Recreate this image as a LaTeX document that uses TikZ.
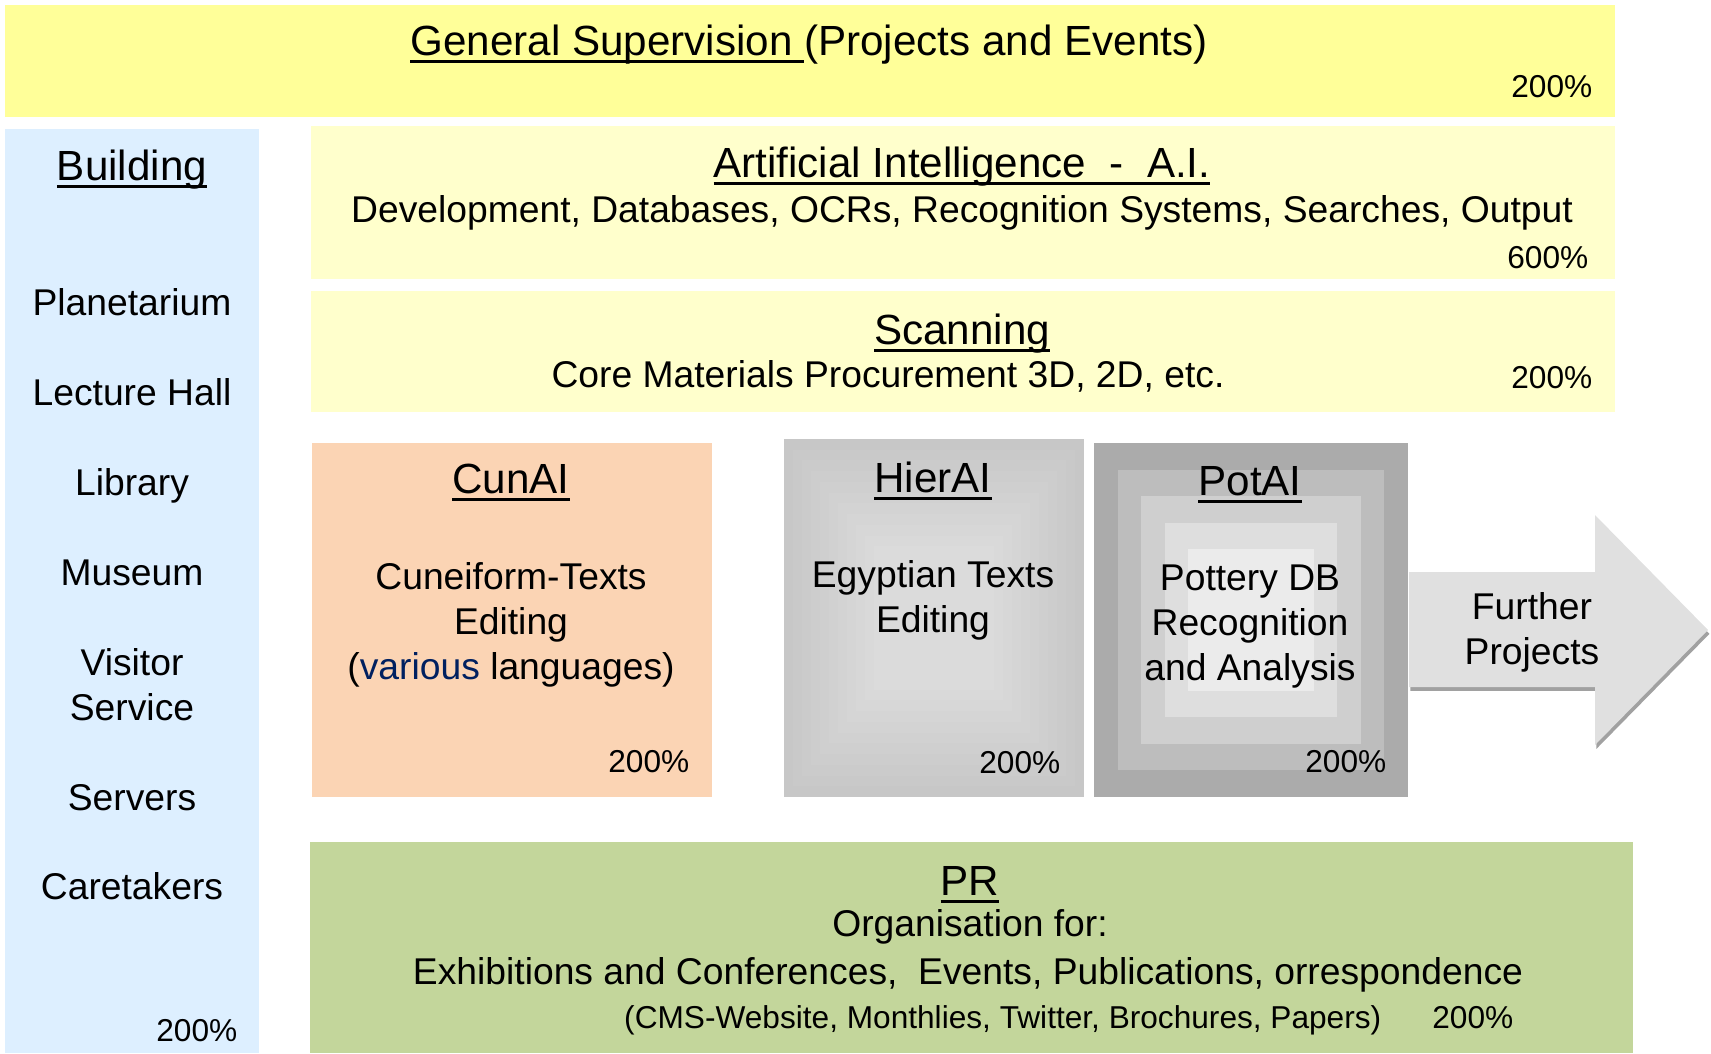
\documentclass[tikz,border=0pt]{standalone}
\usepackage{fontspec}
\setmainfont{Liberation Sans}
\usepackage{tikz}
\usetikzlibrary{calc}
\definecolor{supyellow}{RGB}{255,255,153}
\definecolor{aiyellow}{RGB}{255,255,204}
\definecolor{buildblue}{RGB}{221,239,255}
\definecolor{cunpeach}{RGB}{251,212,180}
\definecolor{prgreen}{RGB}{195,214,155}
\definecolor{arrowgray}{RGB}{224,224,224}
\definecolor{varblue}{RGB}{0,32,96}
\newcommand{\undl}[1]{\setbox0\hbox{#1}\rlap{\rule[-0.19em]{\wd0}{0.06em}}\box0}

\begin{document}
\begin{tikzpicture}[
  area/.style={anchor=north west,inner sep=0pt,outer sep=0pt},
  head/.style={anchor=base,inner sep=0pt,font=\fontsize{12}{14.4}\selectfont},
  txt/.style={anchor=base,inner sep=0pt,align=center,font=\fontsize{10.6}{12.7}\selectfont},
  pct/.style={anchor=base east,inner sep=0pt,font=\fontsize{9}{11}\selectfont}
]
\useasboundingbox (0,0) rectangle (17.11,-10.53);

% boxes
\node[area,fill=supyellow,minimum width=16.10cm,minimum height=1.12cm] (gen) at (0.05,-0.05) {};
\node[area,fill=buildblue,minimum width=2.54cm,minimum height=9.24cm] (bld) at (0.05,-1.29) {};
\node[area,fill=aiyellow,minimum width=13.04cm,minimum height=1.53cm] (ai) at (3.11,-1.26) {};
\node[area,fill=aiyellow,minimum width=13.04cm,minimum height=1.21cm] (scan) at (3.11,-2.91) {};
\node[area,fill=cunpeach,minimum width=4.00cm,minimum height=3.54cm] (cun) at (3.12,-4.43) {};
\node[area,fill=black!22,minimum width=3.00cm,minimum height=3.58cm] (hier) at (7.84,-4.39) {};
\node[area,fill=black!33,minimum width=3.14cm,minimum height=3.54cm] (pot) at (10.94,-4.43) {};
\node[area,fill=prgreen,minimum width=13.23cm,minimum height=2.11cm] (pr) at (3.10,-8.42) {};

% soft shading of the grey boxes
\foreach \i [evaluate=\i as \f using \i*0.06, evaluate=\i as \g using 22-0.8*\i] in {1,...,10}
  \fill[black!\g] ($(hier.north west)!\f!(hier.center)$) rectangle ($(hier.south east)!\f!(hier.center)$);
\foreach \f/\c in {0.15/black!26,0.3/black!19,0.45/black!13,0.6/black!8}
  \fill[\c] ($(pot.north west)!\f!(pot.center)$) rectangle ($(pot.south east)!\f!(pot.center)$);

% arrow
\fill[black!37,xshift=0.4pt,yshift=-1.1pt] (14.09,-5.72) -- (15.95,-5.72) -- (15.95,-5.15) -- (17.08,-6.30)
  -- (15.95,-7.45) -- (15.95,-6.87) -- (14.09,-6.87) -- cycle;
\fill[arrowgray] (14.09,-5.72) -- (15.95,-5.72) -- (15.95,-5.15) -- (17.08,-6.30)
  -- (15.95,-7.45) -- (15.95,-6.87) -- (14.09,-6.87) -- cycle;

% texts
\node[head] (gentitle) at (8.09,-0.55) {\undl{General Supervision\ }(Projects and Events)};
\node[pct] (genpct) at (15.93,-0.97) {200\%};

\node[head] (bldtitle) at (1.32,-1.80) {\undl{Building}};
\node[txt] (planet) at (1.32,-3.15) {Planetarium};
\node[txt] (lecture) at (1.32,-4.05) {Lecture Hall};
\node[txt] (library) at (1.32,-4.95) {Library};
\node[txt] (museum) at (1.32,-5.85) {Museum};
\node[txt] (visitor) at (1.32,-7.20) {Visitor\\Service};
\node[txt] (servers) at (1.32,-8.10) {Servers};
\node[txt] (caretakers) at (1.32,-8.99) {Caretakers};
\node[pct] (bldpct) at (2.38,-10.41) {200\%};

\node[head] (aititle) at (9.62,-1.77) {\undl{Artificial Intelligence\ \ -\ \ A.I.}};
\node[txt] (aitext) at (9.62,-2.22) {Development, Databases, OCRs, Recognition Systems, Searches, Output};
\node[pct] (aipct) at (15.89,-2.68) {600\%};

\node[head] (scantitle) at (9.62,-3.44) {\undl{Scanning}};
\node[txt] (scantext) at (8.88,-3.87) {Core Materials Procurement 3D, 2D, etc.};
\node[pct] (scanpct) at (15.93,-3.88) {200\%};

\node[head] (cuntitle) at (5.11,-4.93) {\undl{CunAI}};
\node[txt] (cuntext) at (5.11,-6.79) {Cuneiform-Texts\\Editing\\(\textcolor{varblue}{various} languages)};
\node[pct] (cunpct) at (6.90,-7.72) {200\%};

\node[head] (hiertitle) at (9.33,-4.92) {\undl{HierAI}};
\node[txt] (hiertext) at (9.33,-6.32) {Egyptian Texts\\Editing};
\node[pct] (hierpct) at (10.61,-7.73) {200\%};

\node[head] (pottitle) at (12.50,-4.95) {\undl{PotAI}};
\node[txt] (pottext) at (12.50,-6.80) {Pottery DB\\Recognition\\and Analysis};
\node[pct] (potpct) at (13.87,-7.72) {200\%};

\node[txt] (further) at (15.32,-6.64) {Further\\Projects};

\node[head] (prtitle) at (9.70,-8.95) {\undl{PR}};
\node[txt] (prorg) at (9.70,-9.36) {Organisation for:};
\node[txt] (prtext) at (9.68,-9.84) {Exhibitions and Conferences,\ \ Events, Publications, orrespondence};
\node[pct] (prsmall) at (13.82,-10.28) {(CMS-Website, Monthlies, Twitter, Brochures, Papers)};
\node[pct] (prpct) at (15.14,-10.28) {200\%};
\end{tikzpicture}
\end{document}
